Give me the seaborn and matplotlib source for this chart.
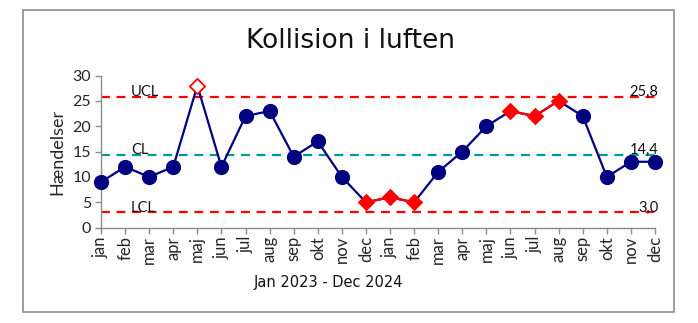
import numpy as np
import pandas as pd
import matplotlib
matplotlib.use("Agg")
import matplotlib.pyplot as plt
from matplotlib.patches import Rectangle
import seaborn as sns

# Monthly counts, Jan 2023 - Dec 2024
months = ["jan", "feb", "mar", "apr", "maj", "jun", "jul", "aug", "sep", "okt", "nov", "dec",
          "jan", "feb", "mar", "apr", "maj", "jun", "jul", "aug", "sep", "okt", "nov", "dec"]
events = [9, 12, 10, 12, 28, 12, 22, 23, 14, 17, 10, 5,
          6, 5, 11, 15, 20, 23, 22, 25, 22, 10, 13, 13]
# 0 = normal, 1 = outside control limits, 2 = part of a signal run
signal = [0, 0, 0, 0, 1, 0, 0, 0, 0, 0, 0, 2,
          2, 2, 0, 0, 0, 2, 2, 2, 0, 0, 0, 0]
# run id for connected signal segments (-1 = none)
run_id = [-1, -1, -1, -1, -1, -1, -1, -1, -1, -1, -1, 0,
          0, 0, -1, -1, -1, 1, 1, 1, -1, -1, -1, -1]

ucl, cl, lcl = 25.8, 14.4, 3.0
limit_names = ["UCL", "CL", "LCL"]
limit_values = [ucl, cl, lcl]
limit_texts = ["25,8", "14,4", "3,0"]
limit_colors = ["#FF0000", "#009999", "#FF0000"]

df = pd.DataFrame({"idx": np.arange(len(events)), "month": months,
                   "events": events, "signal": signal, "run": run_id})

sns.set_style("white")
plt.rcParams["font.family"] = ["Lato", "DejaVu Sans"]

W, H = 698, 323
fig = plt.figure(figsize=(W / 100, H / 100), dpi=100)
ax = fig.add_axes([101 / W, (H - 227.7) / H, 554 / W, 152.2 / H])

navy = "#000080"
red = "#FF0000"

# control limits
for name, val, txt, col in zip(limit_names, limit_values, limit_texts, limit_colors):
    ax.axhline(val, color=col, lw=1.6, ls=(0, (4, 3)), zorder=1)
    ax.text(1.25, val + 0.9, name, ha="left", va="center", fontsize=10.5, color="#111111", zorder=2)
    ax.text(23.15, val + 0.9, txt, ha="right", va="center", fontsize=10.5, color="#111111", zorder=2)

# main series
sns.lineplot(data=df, x="idx", y="events", color=navy, lw=1.6, ax=ax,
             estimator=None, sort=False, zorder=3)
red_runs = df[df["run"] >= 0]
sns.lineplot(data=red_runs, x="idx", y="events", units="run", color=red, lw=1.6,
             ax=ax, estimator=None, sort=False, zorder=4)

normal = df[df["signal"] == 0]
sns.scatterplot(data=normal, x="idx", y="events", color=navy, s=120, marker="o",
                edgecolor=navy, linewidth=0, ax=ax, zorder=5)
runs = df[df["signal"] == 2]
sns.scatterplot(data=runs, x="idx", y="events", color=red, s=80, marker="D",
                edgecolor=red, linewidth=0, ax=ax, zorder=5)
outside = df[df["signal"] == 1]
sns.scatterplot(data=outside, x="idx", y="events", color="white", s=60, marker="D",
                edgecolor=red, linewidth=1.3, ax=ax, zorder=6)

for art in ax.lines + ax.collections:
    art.set_clip_on(False)

ax.set_xlim(0, 23)
ax.set_ylim(0, 30)
ax.set_yticks(range(0, 31, 5))
ax.set_xticks(df["idx"])
ax.set_xticklabels(months, rotation=90, fontsize=12)
ax.tick_params(axis="y", labelsize=11.5, length=4, width=1, color="#8c8c8c", pad=3,
               direction="out", left=True)
ax.tick_params(axis="x", length=4, width=1, color="#8c8c8c", pad=2, direction="out",
               bottom=True)
for s in ["top", "right"]:
    ax.spines[s].set_visible(False)
for s in ["left", "bottom"]:
    ax.spines[s].set_color("#8c8c8c")
    ax.spines[s].set_linewidth(1)

ax.set_xlabel("")
ax.set_ylabel("Hændelser", fontsize=13, labelpad=5)
fig.text(328 / W, (H - 283) / H, "Jan 2023 - Dec 2024", ha="center", va="center",
         fontsize=10.5, family="DejaVu Sans", color="#111111")

fig.text(350 / W, (H - 41) / H, "Kollision i luften", ha="center", va="center",
         fontsize=19, family="DejaVu Sans", color="#111111")

fig.add_artist(Rectangle((23 / W, (H - 312) / H), 651 / W, 302 / H, transform=fig.transFigure,
                         fill=False, edgecolor="#8c8c8c", lw=1.2))

fig.savefig("out.png", dpi=100)
